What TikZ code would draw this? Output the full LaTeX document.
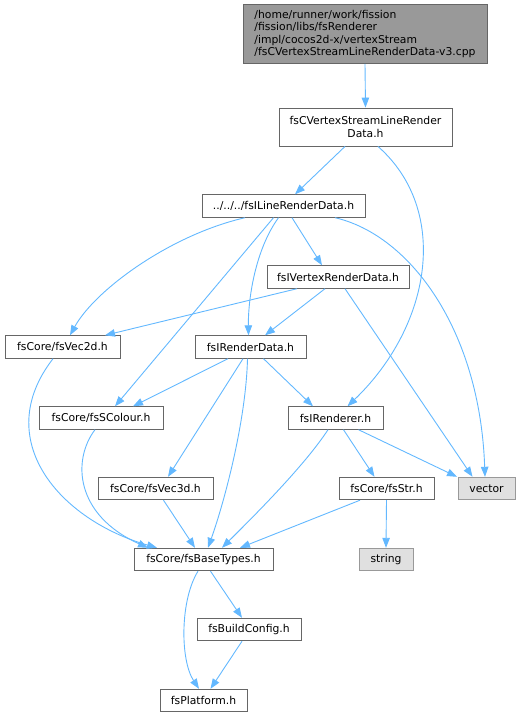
\documentclass[tikz,border=0pt]{standalone}
\usepackage{fontspec}
\setmainfont{DejaVu Sans}
\usepackage{tikz}
\usetikzlibrary{arrows.meta, positioning}
\definecolor{edgeBlue}{HTML}{63B8FF}
\definecolor{boxLine}{HTML}{666666}
\definecolor{mainFill}{HTML}{999999}
\definecolor{extFill}{HTML}{E0E0E0}
\definecolor{extLine}{HTML}{999999}

\begin{document}
\begin{tikzpicture}[x=1pt, y=-1pt,
    font=\fontsize{10.8}{12.3}\selectfont,
    file/.style={draw=boxLine, fill=white, line width=0.9pt, inner sep=0pt, minimum height=22.5pt},
    extfile/.style={file, draw=extLine, fill=extFill},
    dep/.style={draw=edgeBlue, line width=0.9pt, -{Triangle[length=10pt,width=7.5pt]}}]
        \useasboundingbox (0,0) rectangle (520,717);
        \node[file, fill=mainFill, minimum width=244pt, minimum height=59pt, align=left] (src) at (365,34)
            {/home/runner/work/fission\\/fission/libs/fsRenderer\\/impl/cocos2d-x/vertexStream\\/fsCVertexStreamLineRenderData-v3.cpp};
        \node[file, minimum width=173pt, minimum height=38pt, align=center] (cvs) at (365.5,127) {fsCVertexStreamLineRender\\Data.h};
        \node[file, minimum width=163pt] (line) at (283.5,206) {../../../fsILineRenderData.h};
        \node[file, minimum width=142pt] (vrd) at (338,277) {fsIVertexRenderData.h};
        \node[file, minimum width=115pt] (vec2d) at (62.5,347) {fsCore/fsVec2d.h};
        \node[file, minimum width=111pt] (rd) at (250.5,347) {fsIRenderData.h};
        \node[file, minimum width=124pt] (scol) at (101,418) {fsCore/fsSColour.h};
        \node[file, minimum width=95pt] (rer) at (335.5,418) {fsIRenderer.h};
        \node[file, minimum width=115pt] (vec3d) at (155.5,488.5) {fsCore/fsVec3d.h};
        \node[file, minimum width=95pt] (str) at (386.5,488.5) {fsCore/fsStr.h};
        \node[extfile, minimum width=57pt] (vector) at (486.5,488.5) {vector};
        \node[file, minimum width=139pt] (base) at (203.5,559.5) {fsCore/fsBaseTypes.h};
        \node[extfile, minimum width=54pt] (string) at (386,559.5) {string};
        \node[file, minimum width=104pt] (bcfg) at (249,629.5) {fsBuildConfig.h};
        \node[file, minimum width=87pt] (plat) at (203.5,700.5) {fsPlatform.h};

        \draw[dep] (src.south) -- (cvs.north);
        \draw[dep] ([xshift=-20.5]cvs.south) -- ([xshift=11.5]line.north);
        \draw[dep] ([xshift=12.5]cvs.south) .. controls (450,210) and (432,325) .. ([xshift=12]rer.north);
        \draw[dep] ([xshift=-38.5]line.south) .. controls (170,235) and (95,290) .. ([xshift=7.5]vec2d.north);
        \draw[dep] ([xshift=-10]line.south) -- ([xshift=14]scol.north);
        \draw[dep] ([xshift=-5]line.south) .. controls (255,250) and (248,300) .. ([xshift=-2]rd.north);
        \draw[dep] ([xshift=8.5]line.south) -- ([xshift=-16]vrd.north);
        \draw[dep] ([xshift=51.5]line.south) .. controls (410,235) and (480,330) .. ([xshift=-1.5]vector.north);
        \draw[dep] ([xshift=-41]vrd.south) -- ([xshift=42.5]vec2d.north);
        \draw[dep] ([xshift=-13]vrd.south) -- ([xshift=14.5]rd.north);
        \draw[dep] ([xshift=7]vrd.south) -- ([xshift=-14]vector.north);
        \draw[dep] ([xshift=-9.5]vec2d.south) .. controls (-10,440) and (60,520) .. ([xshift=-46.5]base.north);% the long way round
        \draw[dep] ([xshift=-6]scol.south) .. controls (72,460) and (75,515) .. ([xshift=-55.5]base.north);
        \draw[dep] ([xshift=-22.5]rd.south) -- ([xshift=32]scol.north);
        \draw[dep] ([xshift=-7.5]rd.south) -- ([xshift=12.5]vec3d.north);
        \draw[dep] ([xshift=-3]rd.south) .. controls (246,420) and (225,500) .. ([xshift=4.5]base.north);
        \draw[dep] ([xshift=13]rd.south) -- ([xshift=-22.5]rer.north);
        \draw[dep] ([xshift=-7.5]rer.south) .. controls (305,465) and (255,515) .. ([xshift=18.5]base.north);
        \draw[dep] ([xshift=8]rer.south) -- ([xshift=-12]str.north);
        \draw[dep] ([xshift=23]rer.south) -- ([xshift=-29.5]vector.north);
        \draw[dep] ([xshift=8]vec3d.south) -- ([xshift=-8.5]base.north);
        \draw[dep] ([xshift=-26.5]str.south) -- ([xshift=36.5]base.north);
        \draw[dep] (str.south) -- (string.north);
        \draw[dep] ([xshift=7]base.south) -- ([xshift=-7]bcfg.north);
        \draw[dep] ([xshift=-5.5]base.south) .. controls (180,600) and (180,660) .. ([xshift=-4.5]plat.north);
        \draw[dep] ([xshift=-7]bcfg.south) -- ([xshift=7]plat.north);
    \end{tikzpicture}
\end{document}
